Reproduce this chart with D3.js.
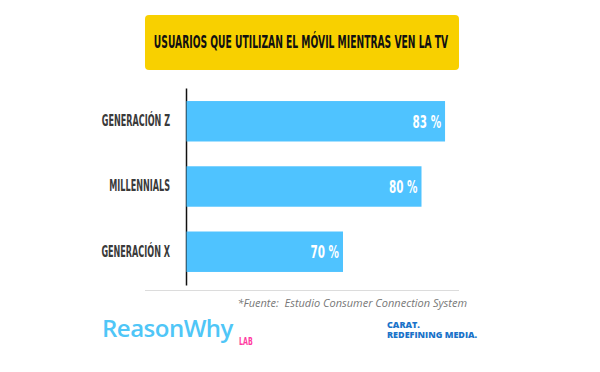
<!DOCTYPE html>
<html>
<head>
<meta charset="utf-8">
<script src="https://cdn.jsdelivr.net/npm/d3@7"></script>
<style>
  body { margin: 0; background: #fff; }
  svg { display: block; }
  .cond { font-family: "DejaVu Sans Condensed", "DejaVu Sans", sans-serif; font-weight: bold; }
</style>
</head>
<body>
<svg class="chart"></svg>
<script>
var categories = ["GENERACIÓN Z", "MILLENNIALS", "GENERACIÓN X"];
var values = [83, 80, 70];
var valueLabels = ["83 %", "80 %", "70 %"];
var title = "USUARIOS QUE UTILIZAN EL MÓVIL MIENTRAS VEN LA TV";
var source = "*Fuente:  Estudio Consumer Connection System";

var width = 600, height = 372;
var squeeze = 0.6; // fake a tall condensed face

var svg = d3.select(".chart")
	.attr("width", width)
	.attr("height", height);

// title box
svg.append("rect")
	.attr("x", 145).attr("y", 15)
	.attr("width", 314).attr("height", 55)
	.attr("rx", 4)
	.attr("fill", "#f8d000");
svg.append("text")
	.attr("class", "cond")
	.attr("transform", "translate(301,47.5) scale(0.552,1)")
	.attr("text-anchor", "middle")
	.attr("font-size", 18.5)
	.attr("fill", "#111")
	.text(title);

var x = d3.scaleLinear()
	.domain([50, 90])
	.range([186, 500]);

var y = d3.scaleBand()
	.domain(categories)
	.range([88, 285])
	.paddingInner(0.38)
	.paddingOuter(0.2);

var yAxis = d3.axisLeft(y)
	.tickSize(0)
	.tickPadding(16);

var axis = svg.append("g")
	.attr("class", "y axis")
	.attr("transform", "translate(" + x(50) + ",0)")
	.call(yAxis);
axis.select(".domain").attr("stroke", "#111").attr("stroke-width", 1.5);
axis.selectAll(".tick text")
	.attr("class", "cond")
	.attr("font-size", 15)
	.attr("fill", "#3a3a3a")
	.attr("transform", "scale(" + squeeze + ",1)")
	.attr("x", -16 / squeeze);

var data = categories.map(function(c, i) { return {cat: c, v: values[i], label: valueLabels[i]}; });

svg.selectAll(".bar")
	.data(data)
  .enter().append("rect")
	.attr("class", "bar")
	.attr("x", x(50) + 0.5)
	.attr("y", function(d) { return y(d.cat); })
	.attr("width", function(d) { return x(d.v) - x(50) - 0.5; })
	.attr("height", y.bandwidth())
	.attr("fill", "#4fc3ff");

svg.selectAll(".val")
	.data(data)
  .enter().append("text")
	.attr("class", "val cond")
	.attr("transform", function(d) { return "translate(" + (x(d.v) - 4) + "," + (y(d.cat) + y.bandwidth() / 2 + 6.5) + ") scale(0.66,1)"; })
	.attr("text-anchor", "end")
	.attr("font-size", 17.5)
	.attr("fill", "#fff")
	.text(function(d) { return d.label; });

// footer
svg.append("line")
	.attr("x1", 145).attr("x2", 459)
	.attr("y1", 290.5).attr("y2", 290.5)
	.attr("stroke", "#dcdcdc");

svg.append("text")
	.attr("x", 467).attr("y", 307)
	.attr("text-anchor", "end")
	.attr("font-family", "Open Sans")
	.attr("font-style", "italic")
	.attr("font-size", 11)
	.attr("fill", "#777")
	.style("white-space", "pre")
	.text(source);

svg.append("text")
	.attr("x", 102).attr("y", 337)
	.attr("font-family", "Open Sans")
	.attr("font-weight", 600)
	.attr("font-size", 24)
	.attr("letter-spacing", -0.5)
	.attr("fill", "#4fc6f7")
	.text("ReasonWhy");

svg.append("text")
	.attr("class", "cond")
	.attr("transform", "translate(239,345) scale(0.7,1)")
	.attr("font-size", 10)
	.attr("fill", "#ff3aa0")
	.text("LAB");

var carat = svg.append("text")
	.attr("x", 387).attr("y", 328)
	.attr("font-family", "Open Sans")
	.attr("font-weight", 800)
	.attr("font-size", 9)
	.attr("fill", "#1a73c9");
carat.append("tspan").attr("x", 387).text("CARAT.");
carat.append("tspan").attr("x", 387).attr("dy", 10).text("REDEFINING MEDIA.");
</script>
</body>
</html>
